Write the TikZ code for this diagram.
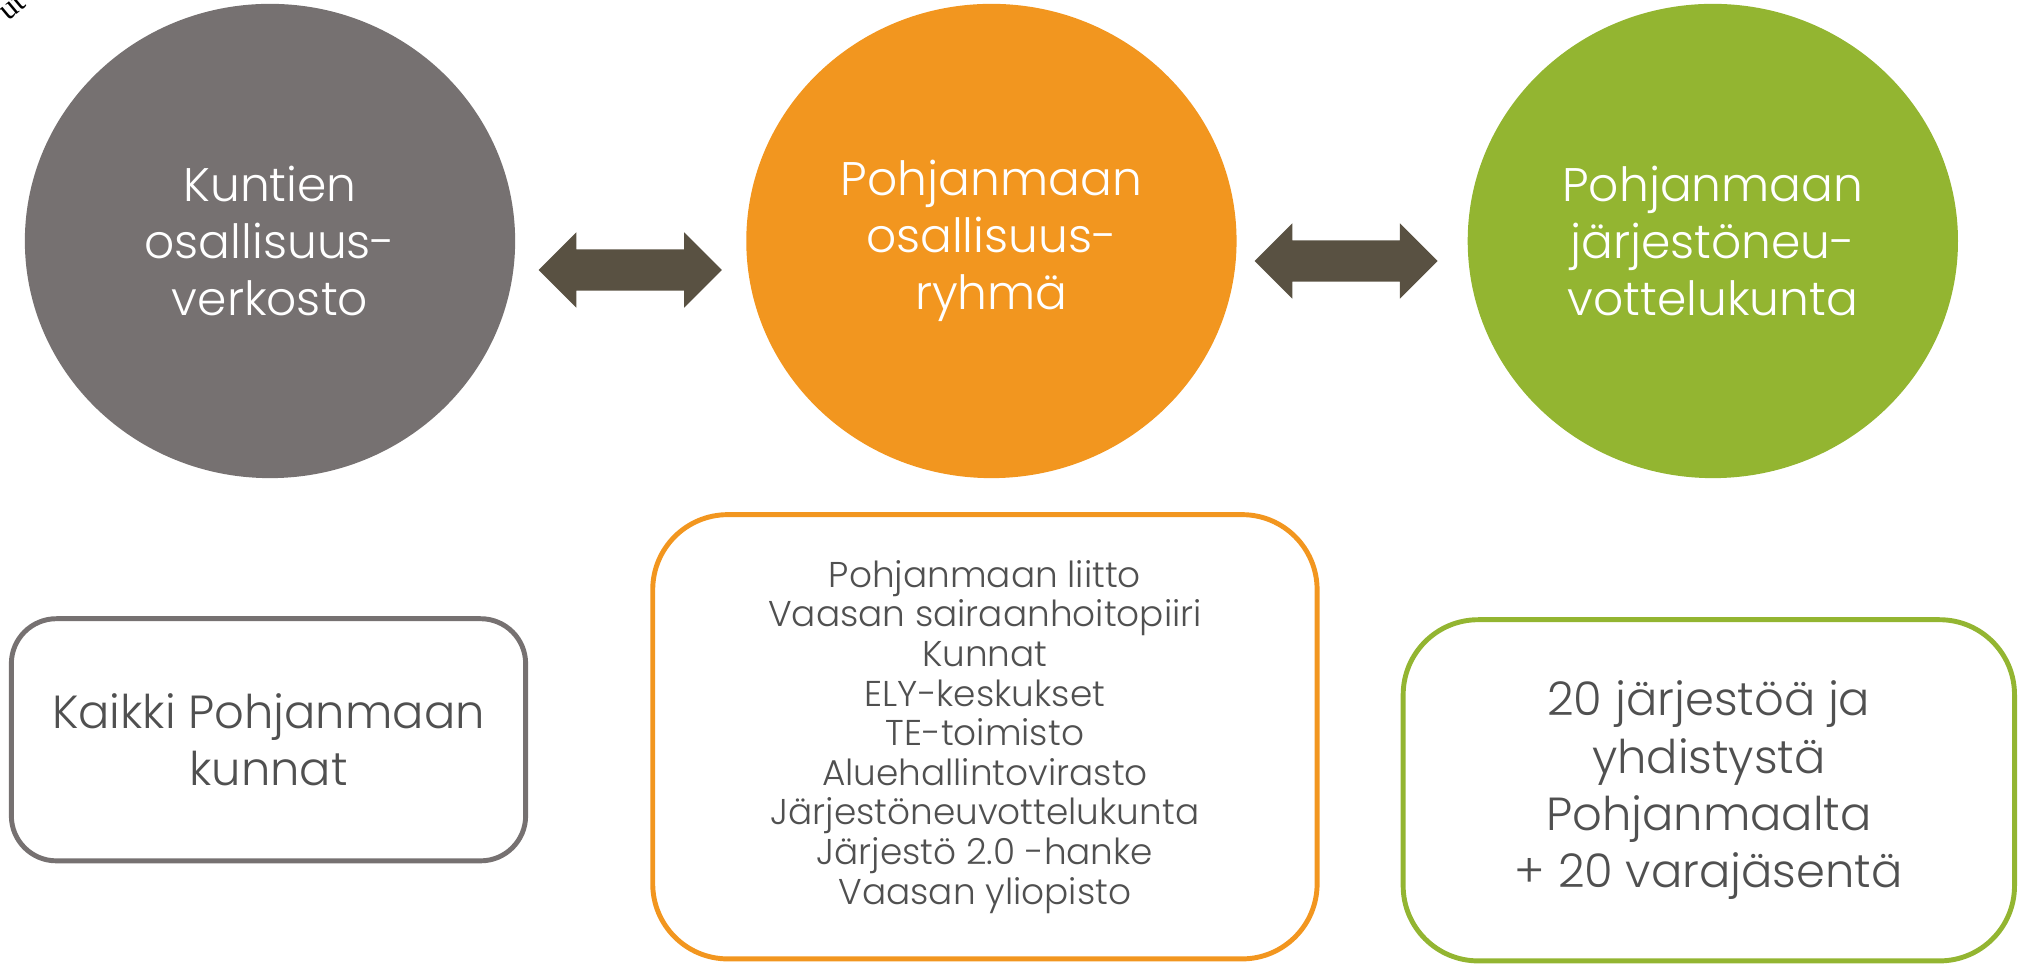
\documentclass[tikz,border=0pt]{standalone}
\usepackage{fontspec}
\setmainfont{Poppins Light}
\newfontfamily\cutfont{Liberation Serif}
\usetikzlibrary{shapes,arrows,positioning}
\definecolor{kgrey}{HTML}{767171}
\definecolor{korange}{HTML}{F2961F}
\definecolor{kgreen}{HTML}{93B531}
\definecolor{karrow}{HTML}{595142}
\definecolor{ktext}{HTML}{505050}
\tikzstyle{circ} = [ellipse, minimum width=4.9cm, minimum height=4.74cm,
    inner sep=0pt, text=white, align=center, font=\fontsize{13.4}{16.3}\selectfont]
\tikzstyle{box} = [rectangle, draw, line width=1.4pt, rounded corners=0.75cm,
    text=ktext, align=center, inner sep=0pt, font=\fontsize{13.2}{16.3}\selectfont]
\tikzstyle{darr} = [double arrow, fill=karrow, minimum height=1.83cm, minimum width=0.74cm,
    double arrow head extend=0.17cm, double arrow tip angle=90, inner sep=0pt]

\begin{document}
\begin{tikzpicture}[x=0.01cm,y=-0.01cm,node distance=7.21cm]
  \useasboundingbox (0,0) rectangle (2018,965);

  \node[rotate=40,font=\cutfont\fontsize{9}{10}\selectfont] (ut) at (12,7) {ut};

  \node[circ,fill=kgrey]   (kuntien) at (270,241)             {Kuntien\\osallisuus-\\verkosto};
  \node[circ,fill=korange] (ryhma)      [right of=kuntien]    {Pohjanmaan\\osallisuus-\\ryhmä};
  \node[circ,fill=kgreen]  (neuvottelu) [right of=ryhma]      {Pohjanmaan\\järjestöneu-\\vottelukunta};

  \node[darr] (nuoli1) [right of=kuntien,node distance=3.6cm,yshift=-0.29cm] {\rule{0pt}{0.4cm}};
  \node[darr] (nuoli2) [right of=ryhma,node distance=3.545cm,yshift=-0.2cm] {\rule{0pt}{0.4cm}};

  \node[box,draw=kgrey,minimum width=5.14cm,minimum height=2.42cm,rounded corners=0.45cm]
        (kunnat) [below of=kuntien,node distance=4.985cm,xshift=-0.015cm]
        {Kaikki Pohjanmaan\\kunnat};
  \node[box,draw=korange,minimum width=6.64cm,minimum height=4.44cm,
        font=\fontsize{10.2}{11.26}\selectfont]
        (jasenet) [below of=ryhma,node distance=4.955cm,xshift=-0.065cm]
        {Pohjanmaan liitto\\Vaasan sairaanhoitopiiri\\Kunnat\\ELY-keskukset\\TE-toimisto\\
         Aluehallintovirasto\\Järjestöneuvottelukunta\\Järjestö 2.0 -hanke\\Vaasan yliopisto};
  \node[box,draw=kgreen,minimum width=6.11cm,minimum height=3.41cm]
        (jarjestot) [below of=neuvottelu,node distance=5.49cm,xshift=-0.04cm]
        {20 järjestöä ja\\yhdistystä\\Pohjanmaalta\\+ 20 varajäsentä};
\end{tikzpicture}
\end{document}
